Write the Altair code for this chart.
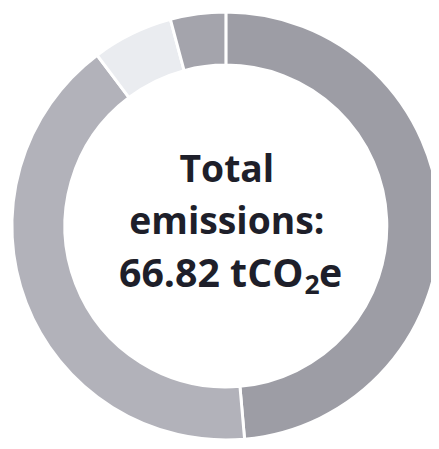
import altair as alt
import pandas as pd

categories = ["Category 1", "Category 2", "Category 3", "Category 4"]
values = [32.48, 27.47, 4.08, 2.79]
colors = ["#9d9da5", "#b2b2ba", "#eaecf0", "#a4a4ac"]
title_lines = ["Total", "emissions:"]
total_parts = ["66.82 tCO", "2", "e"]

df = pd.DataFrame({"category": categories, "value": values, "order": list(range(len(categories)))})

W, H = 431, 441
cx, cy = 222, 218
TXT = "#1e1f2a"
FONT = "Open Sans"

ring = alt.Chart(df).mark_arc(
    innerRadius=164, outerRadius=218, stroke="white", strokeWidth=3
).encode(
    theta=alt.Theta("value:Q", stack=True),
    order=alt.Order("order:Q"),
    color=alt.Color("category:N", scale=alt.Scale(domain=categories, range=colors), legend=None),
    x=alt.value(cx),
    y=alt.value(cy),
)

def txt(s, x, y, size, align):
    return alt.Chart(pd.DataFrame({"t": [s]})).mark_text(
        font=FONT, fontWeight="bold", fontSize=size, color=TXT,
        align=align, baseline="alphabetic"
    ).encode(text="t:N", x=alt.value(x), y=alt.value(y))

layers = [ring]
for line, yb in zip(title_lines, [173, 226]):
    layers.append(txt(line, cx + 1, yb, 38, "center"))

layers.append(txt(total_parts[0], 301, 280, 40, "right"))
layers.append(txt(total_parts[1], 302, 287, 27, "left"))
layers.append(txt(total_parts[2], 317, 280, 40, "left"))

chart = alt.layer(*layers).properties(
    width=W, height=H, autosize=alt.AutoSizeParams(type="none"), padding=0
).configure_view(stroke=None)

chart.save("out.html", embed_options={"renderer": "svg", "actions": False})
